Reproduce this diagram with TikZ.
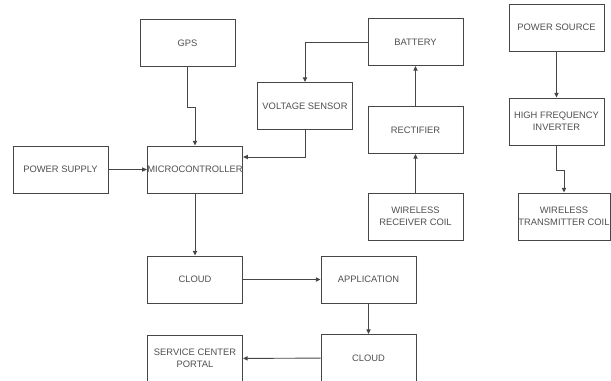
\documentclass[tikz,border=0pt]{standalone}
\usepackage{fontspec}
\setmainfont{Liberation Sans}
\usepackage{tikz}
\usetikzlibrary{arrows.meta,positioning,calc}
\definecolor{dgline}{RGB}{70,70,70}
\definecolor{dgtext}{RGB}{80,80,80}

\begin{document}
\begin{tikzpicture}[x=0.03cm, y=-0.03cm,
  blockbox/.style={draw=dgline, thick, fill=white, minimum width=2.85cm,
    minimum height=1.41cm, align=center, inner sep=0pt,
    font=\fontsize{8}{10}\selectfont, text=dgtext},
  conn/.style={dgline, thick, -{Triangle[length=4pt,width=3.6pt]}}]

\useasboundingbox (0,0) rectangle (611,380);

% receiver side
\node[blockbox] (gps) at (187.5,43) {GPS};
\node[blockbox] (volt) at (305,106) {VOLTAGE SENSOR};
\node[blockbox] (batt) at (415.5,42) {BATTERY};
\node[blockbox] (rect) at (415.5,130) {RECTIFIER};
\node[blockbox] (rxcoil) at (415.5,216.5) {WIRELESS\\RECEIVER COIL};
\node[blockbox] (psup) at (60.5,169.5) {POWER SUPPLY};
\node[blockbox] (mcu) at (195,169.5) {MICROCONTROLLER};
\node[blockbox] (cloudA) at (195,279.5) {CLOUD};
\node[blockbox] (app) at (368.5,279.5) {APPLICATION};
\node[blockbox] (cloudB) at (368.5,358) {CLOUD};
\node[blockbox] (portal) at (195,358.5) {SERVICE CENTER\\PORTAL};

% transmitter side
\node[blockbox] (psrc) at (556.5,27.5) {POWER SOURCE};
\node[blockbox] (inv) at (556.5,121.5) {HIGH FREQUENCY\\INVERTER};
\node[blockbox, minimum width=2.76cm] (txcoil) at (564,216.5) {WIRELESS\\TRANSMITTER COIL};

% Connections
\draw[conn] (gps.south) -- ++(0,40) -| (mcu.north);
\draw[conn] (batt.west) -| (volt.north);
\draw[conn] (volt.south) |- ([yshift=0.375cm]mcu.east);
\draw[conn] (psup) -- (mcu);
\draw[conn] (mcu) -- (cloudA);
\draw[conn] (cloudA) -- (app);
\draw[conn] (app) -- (cloudB);
\draw[conn] (cloudB) -- (portal);
\draw[conn] (rxcoil) -- (rect);
\draw[conn] (rect) -- (batt);
\draw[conn] (psrc) -- (inv);
\draw[conn] (inv.south) -- ++(0,25) -| (txcoil.north);

\end{tikzpicture}
\end{document}
